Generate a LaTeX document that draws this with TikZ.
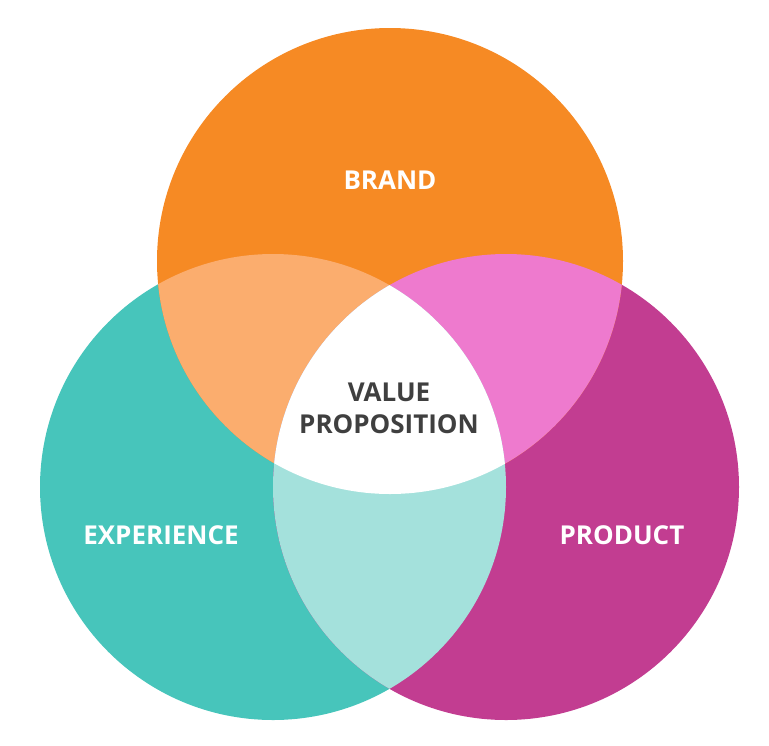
\documentclass[tikz,border=0pt]{standalone}
\usepackage{fontspec}
\setmainfont{Open Sans}
\definecolor{cOrange}{HTML}{F68A24}
\definecolor{cOrangeL}{HTML}{FBAD6E}
\definecolor{cTeal}{HTML}{47C5BB}
\definecolor{cTealL}{HTML}{A4E1DC}
\definecolor{cMag}{HTML}{C23D91}
\definecolor{cPink}{HTML}{EE7ACE}
\definecolor{cText}{HTML}{3F3F3F}
\begin{document}
\begin{tikzpicture}[x=1pt,y=-1pt,
  lbl/.style={font=\bfseries\fontsize{26}{32}\selectfont, text=white, align=center},
  ctr/.style={font=\bfseries\fontsize{26}{32}\selectfont, text=cText, align=center}]
\useasboundingbox (0,0) rectangle (769,745);
\def\R{233}
\coordinate (T) at (390,261);
\coordinate (L) at (273,487);
\coordinate (P) at (506,487);
% base circles
\fill[cTeal] (L) circle (\R);
\fill[cMag] (P) circle (\R);
\fill[cOrange] (T) circle (\R);
% pairwise overlaps
\begin{scope}
  \clip (T) circle (\R);
  \fill[cOrangeL] (L) circle (\R);
  \fill[cPink] (P) circle (\R);
\end{scope}
\begin{scope}
  \clip (L) circle (\R);
  \fill[cTealL] (P) circle (\R);
\end{scope}
% triple overlap
\begin{scope}
  \clip (L) circle (\R);
  \clip (P) circle (\R);
  \fill[white] (T) circle (\R);
\end{scope}
\node[lbl] (brand) at (390,180) {BRAND};
\node[lbl] (exp) at (161,535) {EXPERIENCE};
\node[lbl] (prod) at (622,535) {PRODUCT};
\node[ctr] (vp) at (389,408) {VALUE\\PROPOSITION};
\end{tikzpicture}
\end{document}
